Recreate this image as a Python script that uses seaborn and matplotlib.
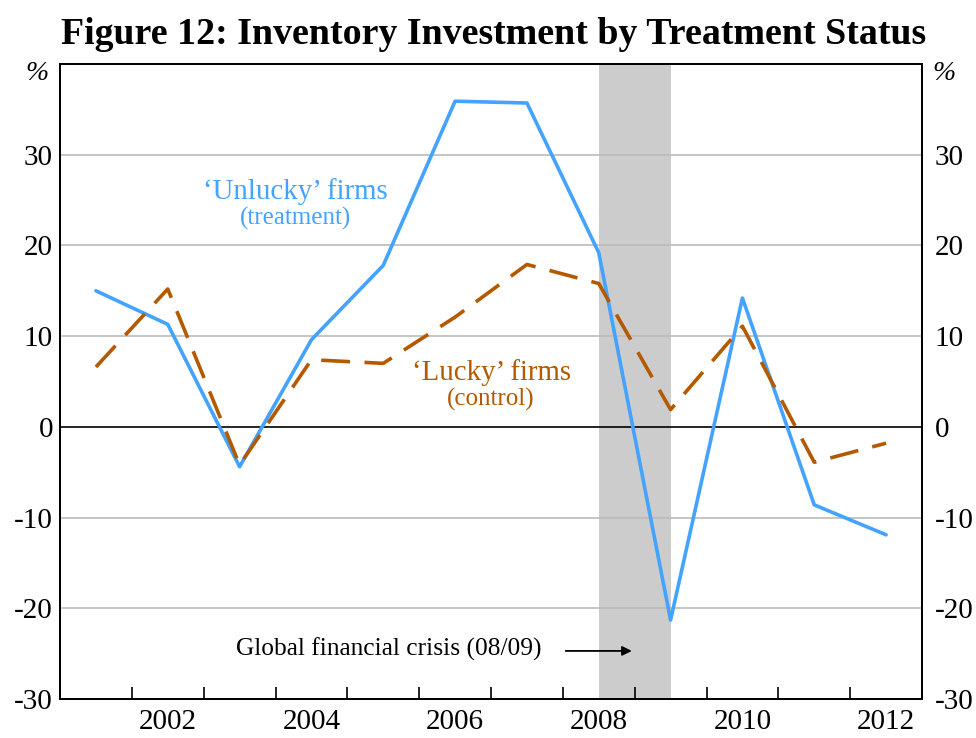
import matplotlib
matplotlib.use("Agg")
import matplotlib.pyplot as plt
import seaborn as sns
import pandas as pd
import numpy as np

years = [2001.5, 2002.5, 2003.5, 2004.5, 2005.5, 2006.5, 2007.5, 2008.5, 2009.5, 2010.5, 2011.5, 2012.5]
unlucky = [15.0, 11.3, -4.4, 9.6, 17.8, 35.9, 35.7, 19.2, -21.3, 14.2, -8.6, -11.9]
lucky = [6.6, 15.2, -4.2, 7.4, 7.0, 12.1, 17.9, 15.8, 1.9, 11.1, -3.9, -1.8]
tick_labels = ["2002", "2004", "2006", "2008", "2010", "2012"]
label_pos = [2002.5, 2004.5, 2006.5, 2008.5, 2010.5, 2012.5]
yticks = [-30, -20, -10, 0, 10, 20, 30]

sns.set_theme(style="white")
plt.rcParams['font.family'] = ['Liberation Serif', 'DejaVu Serif']
plt.rcParams['text.color'] = 'black'
plt.rcParams['xtick.color'] = 'black'
plt.rcParams['ytick.color'] = 'black'
plt.rcParams['axes.labelcolor'] = 'black'

blue = "#44A3FF"
orange = "#B35A00"

df = pd.DataFrame({"year": years, "Unlucky": unlucky, "Lucky": lucky})

fig = plt.figure(figsize=(9.76, 7.38), dpi=100)
ax = fig.add_axes([60/976, 1-699/738, (922-60)/976, (699-64)/738])

ax.axvspan(2008.5, 2009.5, color="#CCCCCC", zorder=0, lw=0)
for y in yticks:
    if y != 0:
        ax.axhline(y, color="#BBBBBB", lw=1.2, zorder=0.5)
ax.axhline(0, color="black", lw=1.2, zorder=1)

sns.lineplot(data=df, x="year", y="Unlucky", ax=ax, color=blue, lw=2.6, zorder=3)
sns.lineplot(data=df, x="year", y="Lucky", ax=ax, color=orange, lw=2.6, zorder=4)
ax.lines[-1].set_dashes([8, 4])

ax.set_xlim(2001, 2013)
ax.set_ylim(-30, 40)
ax.set_xlabel("")
ax.set_ylabel("")

ax.set_xticks(np.arange(2002, 2013, 1))
ax.set_xticklabels([])
ax.set_xticks(label_pos, minor=True)
ax.set_xticklabels(tick_labels, minor=True, fontsize=21)
ax.tick_params(axis="x", which="major", direction="in", length=9, width=1.2, color="black", bottom=True)
ax.tick_params(axis="x", which="minor", length=0, pad=7)

ax.set_yticks(yticks)
ax.set_yticklabels([str(v) for v in yticks], fontsize=21)
ax.tick_params(axis="y", which="both", length=0, pad=5, labelleft=True, labelright=False, left=False, right=False)

ax2 = ax.twinx()
ax2.set_ylim(-30, 40)
ax2.set_yticks(yticks)
ax2.set_yticklabels([str(v) for v in yticks], fontsize=21)
ax2.tick_params(axis="y", length=0, pad=9, labelright=True, right=False)
ax2.grid(False)

for a in (ax, ax2):
    for s in a.spines.values():
        s.set_visible(True)
        s.set_color("black")
        s.set_linewidth(1.4)

ax.text(-0.013, 0.985, "%", transform=ax.transAxes, ha="right", va="center", fontsize=20, style="italic")
ax.text(1.012, 0.985, "%", transform=ax.transAxes, ha="left", va="center", fontsize=20, style="italic")

ax.text(2004.28, 25.9, "\u2018Unlucky\u2019 firms", color=blue, ha="center", va="center", fontsize=20.8)
ax.text(2004.28, 23.0, "(treatment)", color=blue, ha="center", va="center", fontsize=18)
ax.text(2007.0, 6.0, "\u2018Lucky\u2019 firms", color=orange, ha="center", va="center", fontsize=20.8)
ax.text(2007.0, 3.0, "(control)", color=orange, ha="center", va="center", fontsize=18)

ax.text(2005.57, -24.5, "Global financial crisis (08/09)", ha="center", va="center", fontsize=18.3)
ax.annotate("", xy=(2008.96, -24.7), xytext=(2008.04, -24.7),
            arrowprops=dict(arrowstyle="-|>", color="black", lw=1.3, mutation_scale=14,
                            shrinkA=0, shrinkB=0))

fig.suptitle("Figure 12: Inventory Investment by Treatment Status", x=494/976, y=1-35/738,
             va="center", fontsize=27.3, fontweight="bold")

fig.savefig("out.png", dpi=100)
